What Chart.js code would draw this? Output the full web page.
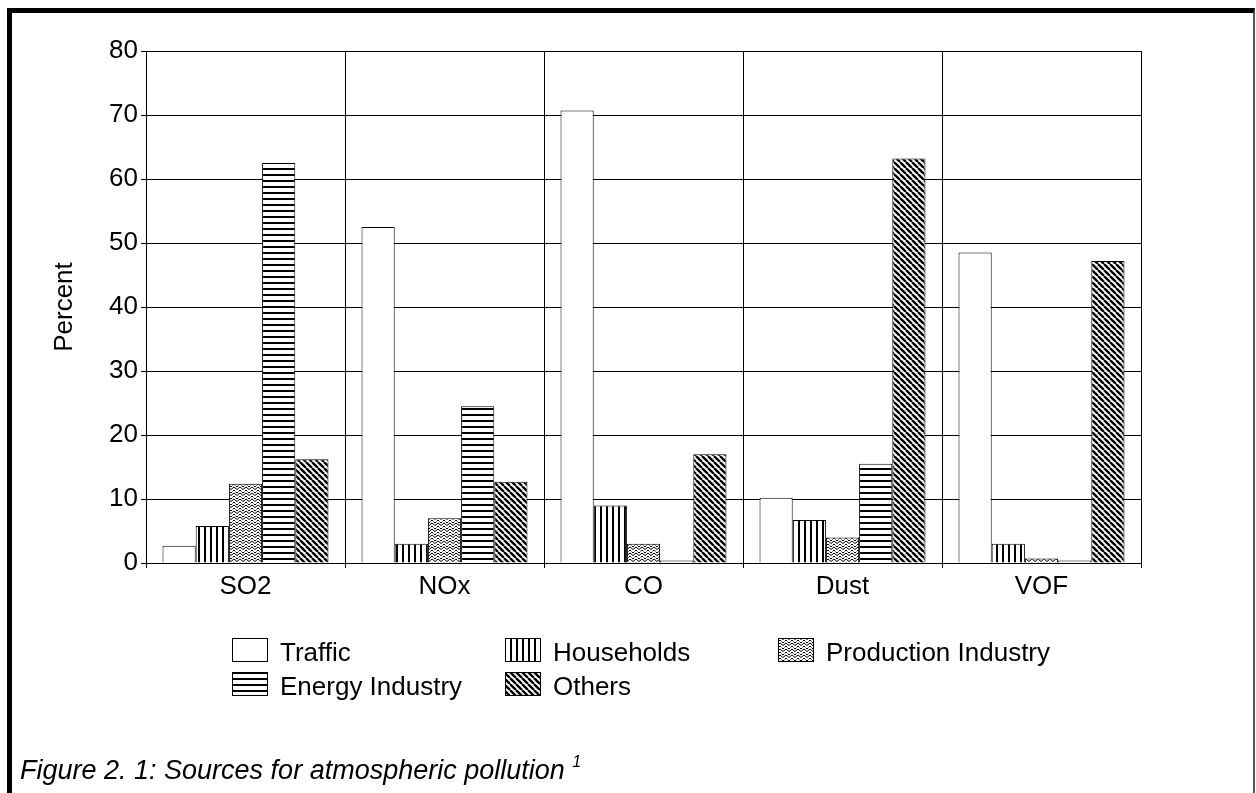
<!DOCTYPE html>
<html>
<head>
<meta charset="utf-8">
<title>Sources for atmospheric pollution</title>
<script src="https://cdn.jsdelivr.net/npm/chart.js@4.4.1/dist/chart.umd.min.js"></script>
<style>
  html, body { margin: 0; padding: 0; background: #fff; overflow: hidden; }
  #wrap { position: relative; width: 1256px; height: 793px; overflow: hidden; }
  #frame {
    position: absolute; left: 7px; top: 8px; width: 1248px; height: 900px;
    box-sizing: border-box;
    border-left: 5px solid #000; border-top: 5px solid #000; border-right: 2px solid #555;
  }
  #chart { position: absolute; left: 0; top: 0; }
  #caption {
    position: absolute; left: 20px; top: 757px;
    font: italic 27px 'Liberation Sans', Arial, sans-serif; line-height: 27px;
    white-space: nowrap; color: #000;
  }
  #caption span { font-size: 16px; position: relative; top: -12px; }
</style>
</head>
<body>
<div id="wrap">
  <div id="frame"></div>
  <canvas id="chart" width="1256" height="793"></canvas>
  <div id="caption">Figure 2. 1: Sources for atmospheric pollution <span>1</span></div>
</div>

<script>
// data (percent)
const categories = ['SO2', 'NOx', 'CO', 'Dust', 'VOF'];
const seriesNames = ['Traffic', 'Households', 'Production Industry', 'Energy Industry', 'Others'];
const traffic = [2.7, 52.5, 70.7, 10.2, 48.5];
const households = [5.8, 3.0, 9.0, 6.7, 3.0];
const productionIndustry = [12.4, 7.0, 3.0, 4.0, 0.7];
const energyIndustry = [62.5, 24.5, 0.4, 15.5, 0.4];
const others = [16.2, 12.7, 17.0, 63.2, 47.2];
const yTicks = { min: 0, max: 80, step: 10 };

const FONT = "'Liberation Sans', Arial, sans-serif";

// hatch fills like the old office chart
function makePattern(w, h, draw) {
    const c = document.createElement('canvas');
    c.width = w;
    c.height = h;
    const g = c.getContext('2d');
    g.fillStyle = '#fff';
    g.fillRect(0, 0, w, h);
    g.fillStyle = '#000';
    g.strokeStyle = '#000';
    draw(g, w, h);
    return document.getElementById('chart').getContext('2d').createPattern(c, 'repeat');
}

const fills = [
    '#ffffff',
    // vertical lines
    makePattern(6, 6, (g) => g.fillRect(0, 0, 2, 6)),
    // small wavy grey texture
    makePattern(6, 6, (g) => {
        g.lineWidth = 1;
        g.beginPath();
        g.moveTo(0, 1); g.lineTo(3, 3.5); g.lineTo(6, 1);
        g.moveTo(0, 4); g.lineTo(1.5, 5.5);
        g.moveTo(4.5, 5.5); g.lineTo(6, 4);
        g.stroke();
        g.fillRect(2, 0, 2, 1);
    }),
    // horizontal lines
    makePattern(6, 6, (g) => g.fillRect(0, 0, 6, 2)),
    // diagonal lines
    makePattern(6, 6, (g) => {
        g.lineWidth = 2.4;
        g.beginPath();
        for (let k = -6; k <= 6; k += 6) {
            g.moveTo(k, 0);
            g.lineTo(k + 6, 6);
        }
        g.stroke();
    })
];

const seriesValues = [traffic, households, productionIndustry, energyIndustry, others];

const datasets = seriesNames.map((name, i) => ({
    label: name,
    data: seriesValues[i],
    backgroundColor: fills[i],
    borderColor: '#000',
    borderWidth: 1,
    categoryPercentage: 0.834,
    barPercentage: 1.0
}));

// legend laid out as a 3-column grid under the plot
const gridLegend = {
    id: 'gridLegend',
    afterDraw(chart) {
        const ctx = chart.ctx;
        const left = chart.chartArea.left + 86;
        const top = chart.chartArea.bottom + 75;
        ctx.save();
        ctx.font = '26px ' + FONT;
        ctx.textBaseline = 'alphabetic';
        chart.data.datasets.forEach((ds, i) => {
            const x = left + (i % 3) * 273;
            const y = top + Math.floor(i / 3) * 34;
            ctx.fillStyle = ds.backgroundColor;
            ctx.fillRect(x, y, 35, 23);
            ctx.strokeStyle = '#000';
            ctx.lineWidth = 1;
            ctx.strokeRect(x + 0.5, y + 0.5, 35, 23);
            ctx.fillStyle = '#000';
            ctx.fillText(ds.label, x + 48, y + 23);
        });
        ctx.restore();
    }
};

new Chart(document.getElementById('chart'), {
    type: 'bar',
    data: {
        labels: categories,
        datasets: datasets
    },
    plugins: [gridLegend],
    options: {
        responsive: false,
        animation: false,
        layout: {
            padding: { left: 0, top: 51, right: 115, bottom: 0 }
        },
        plugins: {
            legend: { display: false },
            tooltip: { enabled: false }
        },
        scales: {
            x: {
                afterFit: (scale) => { scale.height = 230; },
                grid: {
                    offset: true,
                    color: '#000',
                    lineWidth: 1,
                    tickLength: 5
                },
                border: { color: '#000', width: 1 },
                ticks: {
                    color: '#000',
                    font: { family: FONT, size: 26 }
                }
            },
            y: {
                min: yTicks.min,
                max: yTicks.max,
                afterFit: (scale) => { scale.width = 146; },
                grid: {
                    color: '#000',
                    lineWidth: 1,
                    tickLength: 5
                },
                border: { color: '#000', width: 1 },
                ticks: {
                    stepSize: yTicks.step,
                    color: '#000',
                    font: { family: FONT, size: 26 }
                },
                title: {
                    display: true,
                    text: 'Percent',
                    color: '#000',
                    font: { family: FONT, size: 26 },
                    padding: { top: 49, bottom: 0 }
                }
            }
        }
    }
});
</script>
</body>
</html>
